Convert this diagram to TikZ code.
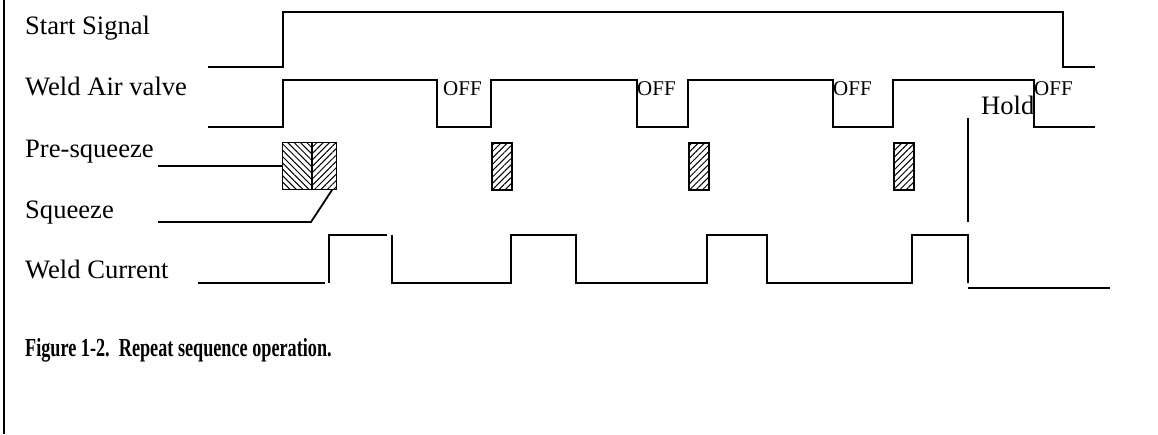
\documentclass[tikz,border=0pt]{standalone}
\usepackage{fontspec}
\setmainfont{Liberation Serif}
\usetikzlibrary{calc, positioning, patterns.meta}
\tikzset{
  sig/.style={line width=1.8pt},
  lbl/.style={anchor=base west, inner sep=0pt, font=\fontsize{26.6}{30}\selectfont},
  offlbl/.style={anchor=base west, inner sep=0pt, font=\fontsize{21}{25}\selectfont},
  hatchbox/.style={draw, line width=1.8pt, inner sep=0pt, minimum height=47pt, anchor=north west},
  psq/.style={hatchbox, pattern={Lines[angle=-45,distance=4.5pt,line width=1pt]}},
  sqz/.style={hatchbox, pattern={Lines[angle=45,distance=4.5pt,line width=1pt]}},
}

\begin{document}
\begin{tikzpicture}[x=1pt, y=-1pt]
        \useasboundingbox (0,0) rectangle (1158,434);
        \draw[line width=2pt] (4,0) -- (4,434);

        \node[lbl] (startlbl) at (25,34) {Start Signal};
        \node[lbl] (airlbl) at (25,95) {Weld Air valve};
        \node[lbl] (prelbl) at (25,157) {Pre-squeeze};
        \node[lbl] (sqzlbl) at (25,218) {Squeeze};
        \node[lbl] (curlbl) at (25,278) {Weld Current};

        % start signal
        \draw[sig] (208,67) -- (283,67) -- (283,12) -- (1063,12) -- (1063,67) -- (1095,67);

        % weld air valve
        \draw[sig] (208,127) -| (283,80) -| (437,127) -| (491,80) -| (637,127) -| (688,80)
                   -| (833,127) -| (893,80) -| (1034,127) -- (1095,127);
        \foreach \x [count=\i] in {443,637,833,1034}
            \node[offlbl] (off\i) at (\x,95) {OFF};

        % pre-squeeze and squeeze
        \node[psq, minimum width=29pt] (pre1) at (282,142) {};
        \node[sqz, minimum width=24pt] (sq1) at (pre1.north east) {};
        \node[sqz, minimum width=20pt] (sq2) at (491,142) {};
        \node[sqz, minimum width=20pt] (sq3) at (688,142) {};
        \node[sqz, minimum width=20pt] (sq4) at (893,142) {};

        \coordinate (prestart) at (158,167);
        \draw[sig] (prestart |- pre1.west) -- (pre1.west);
        \coordinate (sqzstart) at (158,222);
        \coordinate (sqzbend) at (311,222);
        \draw[sig] (sqzstart) -- (sqzbend) -- ($(sq1.south east)+(-5,0)$);

        % hold
        \coordinate (holdtop) at (968,118);
        \coordinate (holdbot) at (968,222);
        \draw[sig] (holdtop) -- (holdbot);
        \node[lbl] (holdlbl) at (981,114) {Hold};

        % weld current
        \draw[sig] (198,283) -- (325,283);
        \draw[sig] (329,283) -- (329,235) -- (387,235);
        \draw[sig] (392,235) -- (392,283) -- (511,283) -- (511,235) -- (576,235) -- (576,283)
                   -- (707,283) -- (707,235) -- (767,235) -- (767,283) -- (912,283) -- (912,235)
                   -- (968,235) -- (968,283);
        \draw[sig] (968,288) -- (1110,288);

        \node[anchor=base west, inner sep=0pt, font=\fontsize{26}{30}\selectfont\bfseries] (caption) at (25,356)
            {\scalebox{0.7}[1]{Figure 1-2.\ \ Repeat sequence operation.}};
\end{tikzpicture}
\end{document}
